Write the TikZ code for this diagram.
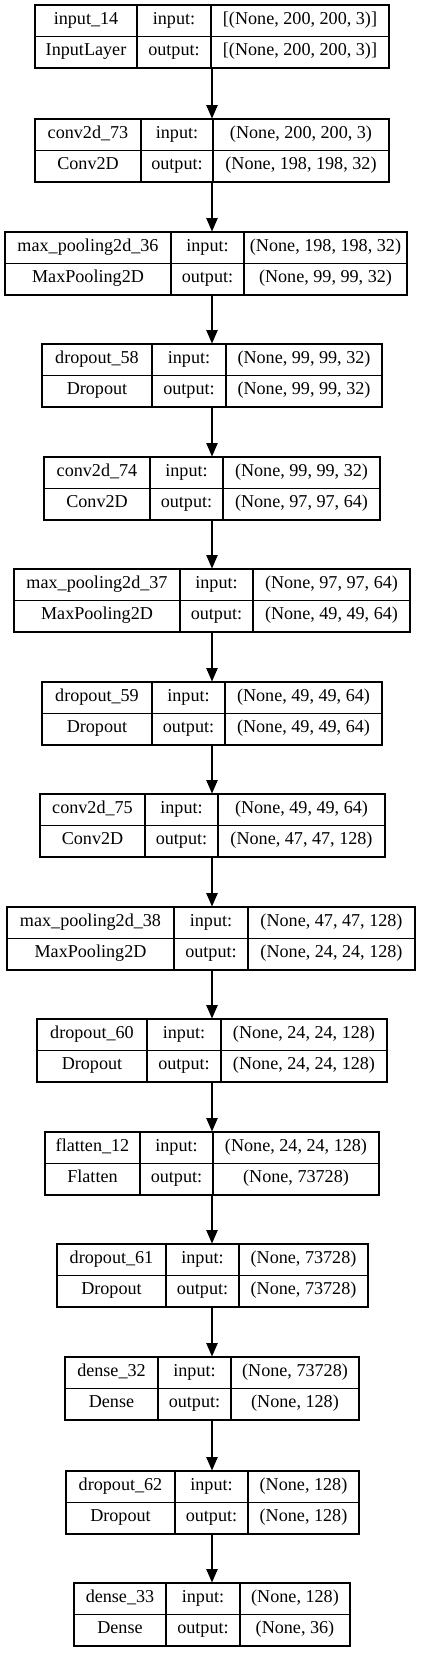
\documentclass[tikz,border=0pt]{standalone}
\usepackage{fontspec}
\setmainfont{Liberation Serif}
\usetikzlibrary{arrows.meta,fit}
\tikzset{
  lay/.style={draw, line width=0.8pt, inner sep=0pt},
  divline/.style={line width=0.8pt},
  txt/.style={inner sep=0pt, text height=0.72em, text depth=0.22em, font=\fontsize{13.6}{16}\selectfont},
  arr/.style={line width=0.8pt, -{Triangle[length=10pt,width=8.5pt]}},
}
% geometry of one layer box: name, top, x0, x1, x2, x3
\newcommand\lbox[6]{%
  \node[lay, fit={(#3,#2) (#6,{#2+63})}] (#1) {};
  \draw[divline] (#4,#2) -- (#4,{#2+63});
  \draw[divline] (#5,#2) -- (#5,{#2+63});
  \draw[divline] (#3,{#2+31.5}) -- (#6,{#2+31.5});
  \coordinate (#1-a1) at ({(#3+#4)/2},{#2+15.75});
  \coordinate (#1-a2) at ({(#3+#4)/2},{#2+47.25});
  \coordinate (#1-b1) at ({(#4+#5)/2},{#2+15.75});
  \coordinate (#1-b2) at ({(#4+#5)/2},{#2+47.25});
  \coordinate (#1-c1) at ({(#5+#6)/2},{#2+15.75});
  \coordinate (#1-c2) at ({(#5+#6)/2},{#2+47.25});
}
% texts of one layer box: name, label, class, input, output
\newcommand\ltext[5]{%
  \node[txt] (#1-name) at (#1-a1) {#2};
  \node[txt] (#1-cls) at (#1-a2) {#3};
  \node[txt] (#1-inl) at (#1-b1) {input:};
  \node[txt] (#1-outl) at (#1-b2) {output:};
  \node[txt] (#1-in) at (#1-c1) {#4};
  \node[txt] (#1-out) at (#1-c2) {#5};
}
\begin{document}
\begin{tikzpicture}[x=0.75pt, y=-0.75pt]
\useasboundingbox (0,0) rectangle (425,1653);
\coordinate (axis) at (212,0);

\lbox{b1}{5}{35}{137}{211}{389}
\ltext{b1}{input\_14}{InputLayer}{[(None, 200, 200, 3)]}{[(None, 200, 200, 3)]}
\lbox{b2}{119}{35}{141}{213}{389}
\ltext{b2}{conv2d\_73}{Conv2D}{(None, 200, 200, 3)}{(None, 198, 198, 32)}
\lbox{b3}{232}{5}{171}{244}{407}
\ltext{b3}{max\_pooling2d\_36}{MaxPooling2D}{(None, 198, 198, 32)}{(None, 99, 99, 32)}
\lbox{b4}{344}{42}{152}{226}{382}
\ltext{b4}{dropout\_58}{Dropout}{(None, 99, 99, 32)}{(None, 99, 99, 32)}
\lbox{b5}{457}{44}{150}{223}{380}
\ltext{b5}{conv2d\_74}{Conv2D}{(None, 99, 99, 32)}{(None, 97, 97, 64)}
\lbox{b6}{569}{14}{180}{253}{410}
\ltext{b6}{max\_pooling2d\_37}{MaxPooling2D}{(None, 97, 97, 64)}{(None, 49, 49, 64)}
\lbox{b7}{682}{42}{152}{225}{382}
\ltext{b7}{dropout\_59}{Dropout}{(None, 49, 49, 64)}{(None, 49, 49, 64)}
\lbox{b8}{794}{40}{145}{218}{385}
\ltext{b8}{conv2d\_75}{Conv2D}{(None, 49, 49, 64)}{(None, 47, 47, 128)}
\lbox{b9}{907}{7}{174}{248}{415}
\ltext{b9}{max\_pooling2d\_38}{MaxPooling2D}{(None, 47, 47, 128)}{(None, 24, 24, 128)}
\lbox{b10}{1019}{37}{147}{221}{387}
\ltext{b10}{dropout\_60}{Dropout}{(None, 24, 24, 128)}{(None, 24, 24, 128)}
\lbox{b11}{1132}{45}{140}{213}{379}
\ltext{b11}{flatten\_12}{Flatten}{(None, 24, 24, 128)}{(None, 73728)}
\lbox{b12}{1244}{57}{166}{239}{368}
\ltext{b12}{dropout\_61}{Dropout}{(None, 73728)}{(None, 73728)}
\lbox{b13}{1357}{65}{158}{231}{359}
\ltext{b13}{dense\_32}{Dense}{(None, 73728)}{(None, 128)}
\lbox{b14}{1471}{66}{175}{248}{359}
\ltext{b14}{dropout\_62}{Dropout}{(None, 128)}{(None, 128)}
\lbox{b15}{1583}{74}{166}{240}{350}
\ltext{b15}{dense\_33}{Dense}{(None, 128)}{(None, 36)}

\foreach \i [evaluate=\i as \j using int(\i+1)] in {1,...,14}{
  \draw[arr] (b\i.south -| axis) -- (b\j.north -| axis);
}
\end{tikzpicture}
\end{document}
